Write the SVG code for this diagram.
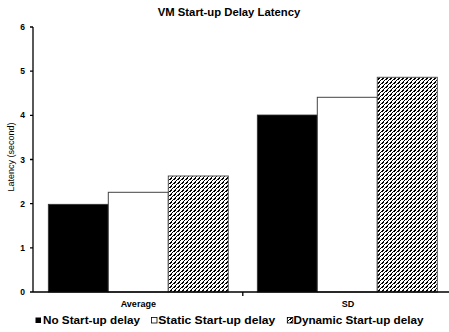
<svg xmlns="http://www.w3.org/2000/svg" width="449" height="332" viewBox="0 0 449 332">
<style>
text{font-family:"Liberation Sans",Arial,sans-serif;fill:#000}
.title{font-size:11.3px;font-weight:bold}
.tick{font-size:8.5px;font-weight:bold}
.cat{font-size:9px;font-weight:bold}
.leg{font-size:11.3px;font-weight:bold}
.ax{stroke:#000;stroke-width:1.3;fill:none}
.bk{fill:#000;stroke:#333;stroke-width:0.8}
.wh{fill:#fff;stroke:#444;stroke-width:1}
.ht{fill:url(#hatch);stroke:#555;stroke-width:1}
</style>
<defs>
<pattern id="hatch" patternUnits="userSpaceOnUse" width="4" height="4">
<rect width="4" height="4" fill="#fff"/>
<path d="M0,0 H1 L0,1 Z M0,4 L4,0 V2 L2,4 Z" fill="#000" shape-rendering="crispEdges"/>
</pattern>
</defs>
<rect width="449" height="332" fill="#fff"/>
<text class="title" x="229" y="15.5" text-anchor="middle">VM Start-up Delay Latency</text>
<g id="yaxis">
<text x="13.5" y="157" font-size="9" transform="rotate(-90 13.5 157)" text-anchor="middle">Latency (second)</text>
<g class="tick" text-anchor="end">
<text x="25" y="295">0</text>
<text x="25" y="250.8">1</text>
<text x="25" y="206.7">2</text>
<text x="25" y="162.5">3</text>
<text x="25" y="118.3">4</text>
<text x="25" y="74.2">5</text>
<text x="25" y="30">6</text>
</g>
</g>
<g id="bars-average">
<rect class="bk" x="48.3" y="204.3" width="60" height="87.7"/>
<rect class="wh" x="108.3" y="192.3" width="60" height="99.7"/>
<rect class="ht" x="168.3" y="176" width="60" height="116"/>
</g>
<g id="bars-sd">
<rect class="bk" x="257.3" y="115" width="60" height="177"/>
<rect class="wh" x="317.3" y="97.3" width="60" height="194.7"/>
<rect class="ht" x="377.3" y="77.3" width="60" height="214.7"/>
</g>
<g id="axes">
<path class="ax" d="M33,27 V292 M30,292 H449 M30,247.8 H33 M30,203.7 H33 M30,159.5 H33 M30,115.3 H33 M30,71.2 H33 M30,27 H33 M242.8,292 V296"/>
</g>
<text class="cat" x="138.3" y="306.5" text-anchor="middle">Average</text>
<text class="cat" x="348" y="306.5" text-anchor="middle">SD</text>
<g id="legend">
<rect x="35.5" y="317.5" width="5.5" height="5.5" fill="#000"/>
<text class="leg" x="43" y="324" textLength="97" lengthAdjust="spacingAndGlyphs">No Start-up delay</text>
<rect x="151.5" y="317.5" width="5.5" height="5.5" fill="#fff" stroke="#000" stroke-width="0.8"/>
<text class="leg" x="158.3" y="324" textLength="117" lengthAdjust="spacingAndGlyphs">Static Start-up delay</text>
<rect x="287.3" y="317.5" width="5.5" height="5.5" fill="url(#hatch)" stroke="#000" stroke-width="0.8"/>
<text class="leg" x="293.5" y="324" textLength="130" lengthAdjust="spacingAndGlyphs">Dynamic Start-up delay</text>
</g>
</svg>
